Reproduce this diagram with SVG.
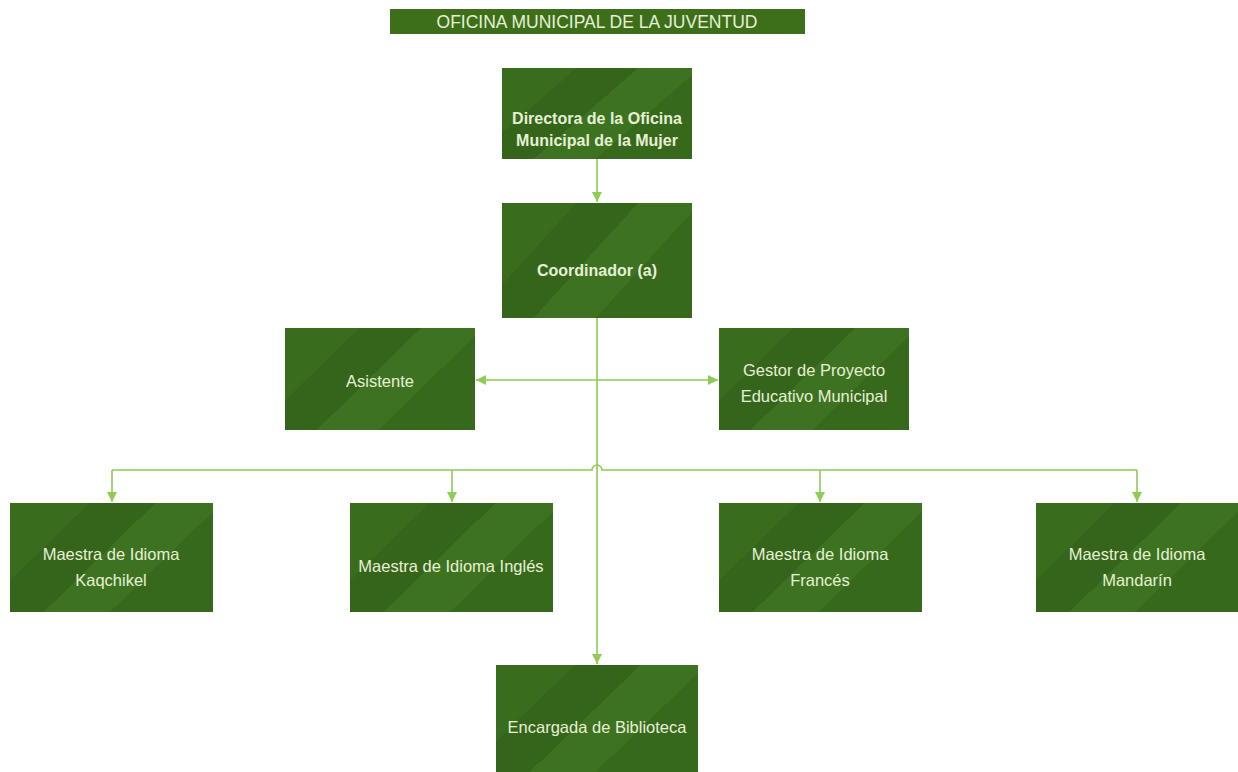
<svg xmlns="http://www.w3.org/2000/svg" width="1238" height="772" viewBox="0 0 1238 772">
<style>
.box{fill:url(#stripe);}
.t{font-family:"Liberation Sans","Open Sans",sans-serif;font-size:16.5px;fill:#e6f0d4;text-anchor:middle;}
.b{font-weight:bold;font-size:16px;}
.h{font-size:17.5px;}
.c{stroke:#8fcb55;stroke-width:1.6;fill:none;}
</style>
<defs>
<linearGradient id="stripe" x1="0" y1="0" x2="1" y2="0.55">
<stop offset="0" stop-color="#3a6c1e"/>
<stop offset="0.3" stop-color="#3a6c1e"/>
<stop offset="0.3" stop-color="#35651b"/>
<stop offset="0.55" stop-color="#35651b"/>
<stop offset="0.55" stop-color="#3d7320"/>
<stop offset="0.8" stop-color="#3d7320"/>
<stop offset="0.8" stop-color="#37691c"/>
<stop offset="1" stop-color="#37691c"/>
</linearGradient>
<marker id="ah" viewBox="0 0 10 10" refX="10" refY="5" markerWidth="10" markerHeight="10" markerUnits="userSpaceOnUse" orient="auto-start-reverse">
<path d="M0 0 L10 5 L0 10 Z" fill="#8fcb55"/>
</marker>
</defs>
<rect width="1238" height="772" fill="#ffffff"/>

<g id="title">
<rect x="390" y="9" width="415" height="25" fill="#3d6f1a"/>
<text class="t h" x="597" y="28">OFICINA MUNICIPAL DE LA JUVENTUD</text>
</g>

<g id="connectors">
<path class="c" d="M597 159 V202" marker-end="url(#ah)"/>
<path class="c" d="M476 380 H718" marker-start="url(#ah)" marker-end="url(#ah)"/>
<path class="c" d="M597 318 V664" marker-end="url(#ah)"/>
<path class="c" d="M112 470 H592 a5 5 0 0 1 10 0 H1137"/>
<path class="c" d="M112 470 V502" marker-end="url(#ah)"/>
<path class="c" d="M452 470 V502" marker-end="url(#ah)"/>
<path class="c" d="M820 470 V502" marker-end="url(#ah)"/>
<path class="c" d="M1137 470 V502" marker-end="url(#ah)"/>
</g>

<g id="directora">
<rect class="box" x="502" y="68" width="190" height="91"/>
<text class="t b" x="597" y="124">Directora de la Oficina</text>
<text class="t b" x="597" y="146">Municipal de la Mujer</text>
</g>

<g id="coordinador">
<rect class="box" x="502" y="203" width="190" height="115"/>
<text class="t b" x="597" y="276">Coordinador (a)</text>
</g>

<g id="asistente">
<rect class="box" x="285" y="328" width="190" height="102"/>
<text class="t" x="380" y="387">Asistente</text>
</g>

<g id="gestor">
<rect class="box" x="719" y="328" width="190" height="102"/>
<text class="t" x="814" y="376">Gestor de Proyecto</text>
<text class="t" x="814" y="402">Educativo Municipal</text>
</g>

<g id="kaqchikel">
<rect class="box" x="10" y="503" width="203" height="109"/>
<text class="t" x="111" y="560">Maestra de Idioma</text>
<text class="t" x="111" y="586">Kaqchikel</text>
</g>

<g id="ingles">
<rect class="box" x="350" y="503" width="203" height="109"/>
<text class="t" x="451" y="572">Maestra de Idioma Inglés</text>
</g>

<g id="frances">
<rect class="box" x="719" y="503" width="203" height="109"/>
<text class="t" x="820" y="560">Maestra de Idioma</text>
<text class="t" x="820" y="586">Francés</text>
</g>

<g id="mandarin">
<rect class="box" x="1036" y="503" width="202" height="109"/>
<text class="t" x="1137" y="560">Maestra de Idioma</text>
<text class="t" x="1137" y="586">Mandarín</text>
</g>

<g id="encargada">
<rect class="box" x="496" y="665" width="202" height="107"/>
<text class="t" x="597" y="733">Encargada de Biblioteca</text>
</g>
</svg>
